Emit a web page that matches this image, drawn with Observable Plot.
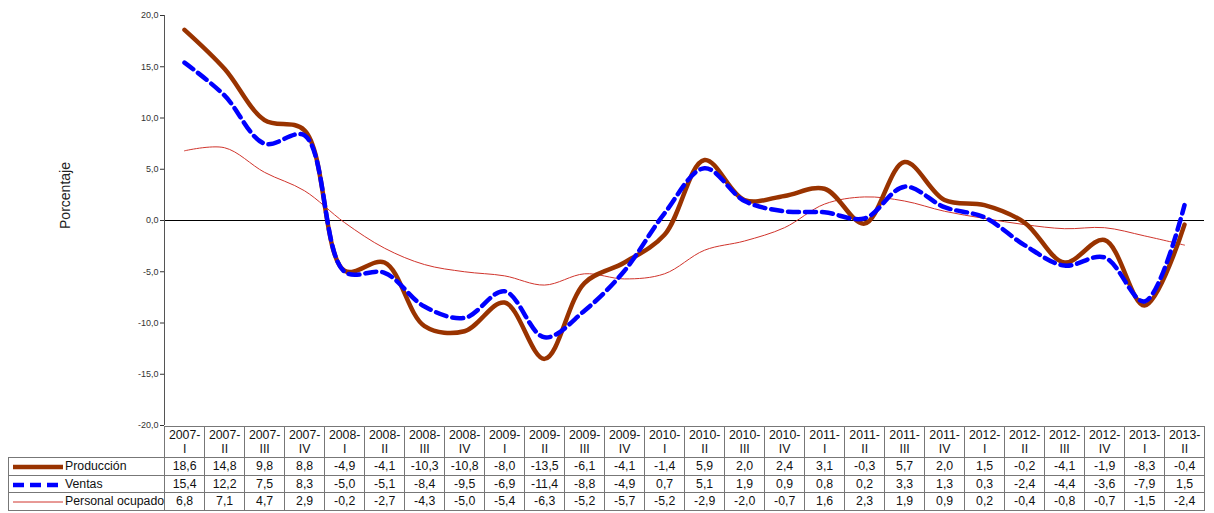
<!DOCTYPE html>
<html><head><meta charset="utf-8">
<script src="https://cdn.jsdelivr.net/npm/d3@7"></script>
<script src="https://cdn.jsdelivr.net/npm/@observablehq/plot@0.6"></script>
<style>
body{margin:0;background:#fff;font-family:"Liberation Sans",Arial,sans-serif;}
#wrap{position:relative;width:1214px;height:513px;overflow:hidden;}
#chart{position:absolute;left:0;top:0;}
#tbl{position:absolute;left:8px;top:426px;border-collapse:collapse;font-size:12.3px;color:#111;table-layout:fixed;}
#tbl td{border:1px solid #777;text-align:center;padding:0;height:16.5px;line-height:14px;white-space:nowrap;overflow:hidden;}
#tbl tr.hd td{height:30px;line-height:14px;}
#tbl td.lg{text-align:left;padding-left:3px;}
#tbl tr.hd td.lg{border:none;}
.sw{display:inline-block;vertical-align:middle;margin-right:1px;}
</style></head>
<body><div id="wrap"><div id="chart"></div><table id="tbl"></table></div>
<script>
const periodYears = ["2007","2007","2007","2007","2008","2008","2008","2008","2009","2009","2009","2009","2010","2010","2010","2010","2011","2011","2011","2011","2012","2012","2012","2012","2013","2013"];
const periodQuarters = ["I","II","III","IV","I","II","III","IV","I","II","III","IV","I","II","III","IV","I","II","III","IV","I","II","III","IV","I","II"];
const produccion = [18.6,14.8,9.8,8.8,-4.9,-4.1,-10.3,-10.8,-8.0,-13.5,-6.1,-4.1,-1.4,5.9,2.0,2.4,3.1,-0.3,5.7,2.0,1.5,-0.2,-4.1,-1.9,-8.3,-0.4];
const ventas = [15.4,12.2,7.5,8.3,-5.0,-5.1,-8.4,-9.5,-6.9,-11.4,-8.8,-4.9,0.7,5.1,1.9,0.9,0.8,0.2,3.3,1.3,0.3,-2.4,-4.4,-3.6,-7.9,1.5];
const personal = [6.8,7.1,4.7,2.9,-0.2,-2.7,-4.3,-5.0,-5.4,-6.3,-5.2,-5.7,-5.2,-2.9,-2.0,-0.7,1.6,2.3,1.9,0.9,0.2,-0.4,-0.8,-0.7,-1.5,-2.4];
const seriesNames = ["Producción","Ventas","Personal ocupado"];
const yTicks = [-20,-15,-10,-5,0,5,10,15,20];
const yLabel = "Porcentaje";
</script>
<script>
const periods = periodYears.map((y,i)=>y+"-"+periodQuarters[i]);
const seriesValues = [produccion, ventas, personal];
const styles = [
  {stroke:"#993300", strokeWidth:4.5, dash:null},
  {stroke:"#0000ff", strokeWidth:4.5, dash:"11,6"},
  {stroke:"#d0342c", strokeWidth:1, dash:null}
];
const data = seriesValues.map((vals,s)=>vals.map((v,i)=>({period:periods[i], value:v, series:seriesNames[s]})));
const fmt = v => v.toFixed(1).replace(".", ",");

const chart = Plot.plot({
  width:1214, height:433,
  marginLeft:164, marginRight:10, marginTop:15, marginBottom:8,
  style:{fontFamily:"Liberation Sans, Arial, sans-serif", background:"transparent", overflow:"visible"},
  x:{type:"point", domain:periods, padding:0.5, axis:null},
  y:{domain:[-20,20], label:null},
  marks:[
    Plot.axisY({ticks:yTicks, tickFormat:fmt, tickSize:4, tickPadding:2, fontSize:9, label:null, color:"#333"}),
    Plot.ruleY([0], {stroke:"#000", strokeWidth:1}),
    Plot.line(data[2], {x:"period", y:"value", stroke:styles[2].stroke, strokeWidth:styles[2].strokeWidth, curve:"catmull-rom"}),
    Plot.line(data[0], {x:"period", y:"value", stroke:styles[0].stroke, strokeWidth:styles[0].strokeWidth, curve:"catmull-rom"}),
    Plot.line(data[1], {x:"period", y:"value", stroke:styles[1].stroke, strokeWidth:styles[1].strokeWidth, strokeDasharray:styles[1].dash, curve:"catmull-rom"}),
    Plot.text([yLabel], {frameAnchor:"left", textAnchor:"middle", dx:-99, dy:-25, text:d=>d, rotate:-90, fontSize:14, fill:"#222"})
  ]
});
document.getElementById("chart").appendChild(chart);
// left axis line
d3.select(chart).append("line").attr("x1",164.5).attr("x2",164.5).attr("y1",15).attr("y2",425).attr("stroke","#555");

// table
const tbl = document.getElementById("tbl");
const colW = 40;
let html = '<colgroup><col style="width:156px">' + periods.map(()=>`<col style="width:${colW}px">`).join("") + '</colgroup>';
html += '<tr class="hd"><td class="lg"></td>' + periods.map((p,i)=>`<td>${periodYears[i]}-<br>${periodQuarters[i]}</td>`).join("") + '</tr>';
const swatch = s => {
  const st = styles[s];
  const dash = st.dash ? ` stroke-dasharray="${st.dash}"` : "";
  return `<svg class="sw" width="52" height="8"><line x1="1" y1="4" x2="51" y2="4" stroke="${st.stroke}" stroke-width="${st.strokeWidth}"${dash}/></svg>`;
};
seriesValues.forEach((vals,s)=>{
  html += `<tr><td class="lg">${swatch(s)}${seriesNames[s]}</td>` + vals.map(v=>`<td>${fmt(v)}</td>`).join("") + '</tr>';
});
tbl.innerHTML = html;
</script>
</body></html>
